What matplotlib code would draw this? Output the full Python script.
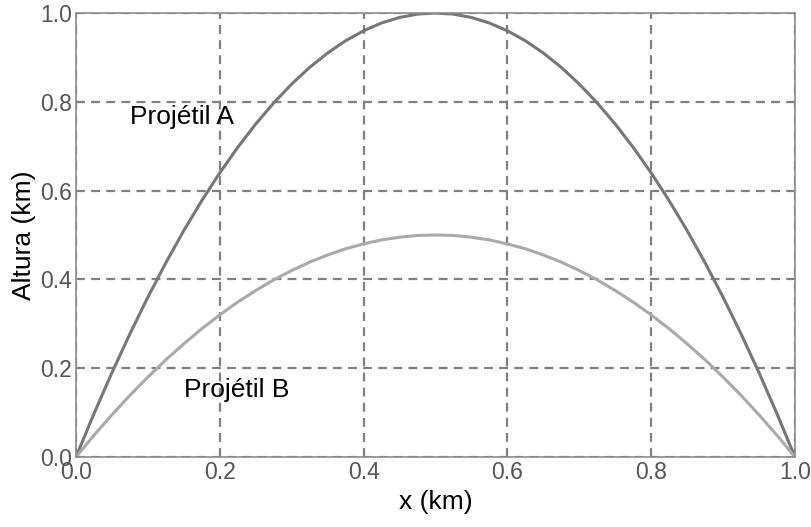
import matplotlib.pyplot as plt

# values (x in km, height in km)
x = [0.0, 0.025, 0.05, 0.075, 0.1, 0.125, 0.15, 0.175, 0.2, 0.225, 0.25,
     0.275, 0.3, 0.325, 0.35, 0.375, 0.4, 0.425, 0.45, 0.475, 0.5,
     0.525, 0.55, 0.575, 0.6, 0.625, 0.65, 0.675, 0.7, 0.725, 0.75,
     0.775, 0.8, 0.825, 0.85, 0.875, 0.9, 0.925, 0.95, 0.975, 1.0]
altura_a = [0.0, 0.0975, 0.19, 0.2775, 0.36, 0.4375, 0.51, 0.5775, 0.64, 0.6975, 0.75,
            0.7975, 0.84, 0.8775, 0.91, 0.9375, 0.96, 0.9775, 0.99, 0.9975, 1.0,
            0.9975, 0.99, 0.9775, 0.96, 0.9375, 0.91, 0.8775, 0.84, 0.7975, 0.75,
            0.6975, 0.64, 0.5775, 0.51, 0.4375, 0.36, 0.2775, 0.19, 0.0975, 0.0]
altura_b = [0.0, 0.049, 0.095, 0.139, 0.18, 0.219, 0.255, 0.289, 0.32, 0.349, 0.375,
            0.399, 0.42, 0.439, 0.455, 0.469, 0.48, 0.489, 0.495, 0.499, 0.5,
            0.499, 0.495, 0.489, 0.48, 0.469, 0.455, 0.439, 0.42, 0.399, 0.375,
            0.349, 0.32, 0.289, 0.255, 0.219, 0.18, 0.139, 0.095, 0.049, 0.0]
ticks = [0.0, 0.2, 0.4, 0.6, 0.8, 1.0]

plt.rcParams['font.family'] = ['Liberation Sans', 'DejaVu Sans']

fig = plt.figure(figsize=(8.11, 5.27), dpi=100)
ax = fig.add_axes([0.0937, 0.1328, 0.8865, 0.8425])

ax.plot(x, altura_a, color='#777777', lw=2.2, solid_joinstyle='round')
ax.plot(x, altura_b, color='#aaaaaa', lw=2.2, solid_joinstyle='round')

ax.text(0.075, 0.766, 'Projétil A', fontsize=19, va='center', ha='left')
ax.text(0.15, 0.151, 'Projétil B', fontsize=19, va='center', ha='left')

ax.set_xlim(0, 1)
ax.set_ylim(0, 1)
ax.set_xticks(ticks)
ax.set_yticks(ticks)
ax.set_xticklabels([f'{t:.1f}' for t in ticks])
ax.set_yticklabels([f'{t:.1f}' for t in ticks])
ax.tick_params(length=0, labelsize=16.5, labelcolor='#555555', pad=3)
ax.grid(True, color='#808080', ls=(0, (4, 2.8)), lw=1.6)
for s in ax.spines.values():
    s.set_color('#8c8c8c')
    s.set_linewidth(1.2)

ax.set_xlabel('x (km)', fontsize=19, labelpad=4)
ax.set_ylabel('Altura (km)', fontsize=19, labelpad=3)

fig.savefig('out.png', dpi=100)
